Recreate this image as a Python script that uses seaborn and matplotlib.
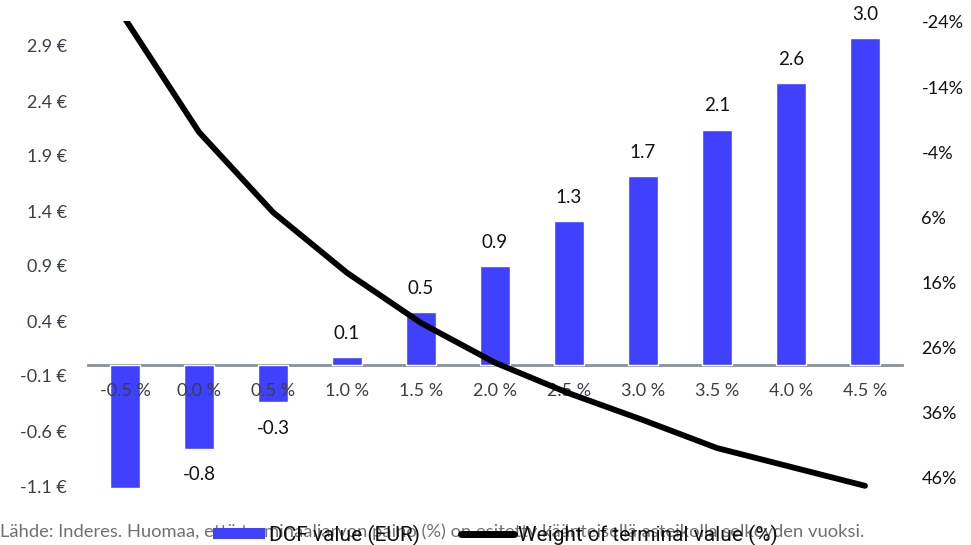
import numpy as np
import pandas as pd
import matplotlib
matplotlib.use("Agg")
import matplotlib.pyplot as plt
from matplotlib.patches import Patch
from matplotlib.lines import Line2D
import seaborn as sns

# Terminal growth scenarios
growth_labels = ["-0.5 %", "0.0 %", "0.5 %", "1.0 %", "1.5 %", "2.0 %",
                 "2.5 %", "3.0 %", "3.5 %", "4.0 %", "4.5 %"]
# DCF value per share (EUR)
dcf_values = [-1.12, -0.76, -0.34, 0.07, 0.48, 0.90, 1.31, 1.72, 2.14, 2.56, 2.97]
# Weight of terminal value (%)
tv_weight = [-24.5, -7.1, 5.2, 14.5, 22.2, 28.3, 33.0, 37.1, 41.4, 44.3, 47.2]

left_ticks = [-1.1, -0.6, -0.1, 0.4, 0.9, 1.4, 1.9, 2.4, 2.9]
right_ticks = [-24, -14, -4, 6, 16, 26, 36, 46]

source_text = ("Lähde: Inderes. Huomaa, että terminaaliarvon paino (%) on esitetty "
               "käänteisellä asteikolla selkeyden vuoksi.")

BAR_COLOR = "#4040ff"
FONT = ["Lato", "DejaVu Sans"]

sns.set_theme(style="white")
plt.rcParams["font.family"] = FONT

df = pd.DataFrame({"growth": growth_labels, "dcf": dcf_values, "weight": tv_weight})

W, H = 971, 545
fig = plt.figure(figsize=(W / 100, H / 100), dpi=100)
left, right, top, bottom = 88, 902, 21, 490
ax = fig.add_axes([left / W, 1 - bottom / H, (right - left) / W, (bottom - top) / H])

sns.barplot(data=df, x="growth", y="dcf", color=BAR_COLOR, saturation=1,
            width=0.4, ax=ax, zorder=2)

y0, y1 = (365 - bottom) / 110, (365 - top) / 110
ax.set_ylim(y0, y1)
ax.set_xlim(-0.5, len(growth_labels) - 0.5)
ax.set_axisbelow(False)

# value labels above / below each bar
for i, v in enumerate(dcf_values):
    label = f"{v:.1f}"
    if v >= 0:
        ax.annotate(label, (i, v), xytext=(0, 17), textcoords="offset points",
                    ha="center", va="center", fontsize=13.5, color="#111111")
    else:
        ypos_px = 365 - v * 110 + 26
        if ypos_px < bottom - 8:
            ax.annotate(label, (i, v), xytext=(0, -19), textcoords="offset points",
                        ha="center", va="center", fontsize=13.5, color="#111111")

for s in ["top", "right", "left"]:
    ax.spines[s].set_visible(False)
ax.spines["bottom"].set_position(("data", 0))
ax.spines["bottom"].set_color("#8a9198")
ax.spines["bottom"].set_linewidth(2)
ax.spines["bottom"].set_zorder(1)

ax.set_xlabel("")
ax.set_ylabel("")
ax.tick_params(axis="x", length=0, pad=13, labelsize=13, labelcolor="#3a3f45")
ax.set_yticks(left_ticks)
ax.set_yticklabels([f"{t:.1f} €" for t in left_ticks])
ax.tick_params(axis="y", length=0, pad=15, labelsize=13, labelcolor="#3a3f45")
ax.grid(False)

# terminal value weight on an inverted secondary axis
ax2 = ax.twinx()
sns.lineplot(data=df, x="growth", y="weight", sort=False, color="black",
             linewidth=4.2, ax=ax2, solid_capstyle="round", solid_joinstyle="round")
ax2.set_ylim((bottom - 22) * 70 / 456 - 24, (top - 22) * 70 / 456 - 24)
ax2.set_yticks(right_ticks)
ax2.set_yticklabels([f"{t}%" for t in right_ticks])
ax2.tick_params(axis="y", length=0, pad=14, labelsize=13, labelcolor="#111111")
ax2.set_ylabel("")
ax2.set_xlabel("")
ax2.grid(False)
for s in ax2.spines.values():
    s.set_visible(False)

fig.text(0, 1 - 532 / H, source_text, ha="left", va="center",
         fontsize=13.2, color="#707070")

handles = [Patch(facecolor=BAR_COLOR, edgecolor="none"),
           Line2D([0], [0], color="black", linewidth=5, solid_capstyle="round")]
fig.legend(handles, ["DCF value (EUR)", "Weight of terminal value (%)"],
           loc="center", bbox_to_anchor=(495 / W, 1 - 535 / H), ncol=2,
           frameon=False, handlelength=2.5, handleheight=0.5,
           handletextpad=0.2, columnspacing=2.0, borderpad=0,
           prop={"family": ["Roboto", "DejaVu Sans"], "size": 15},
           labelcolor="#111111")

fig.savefig("out.png", dpi=100)
